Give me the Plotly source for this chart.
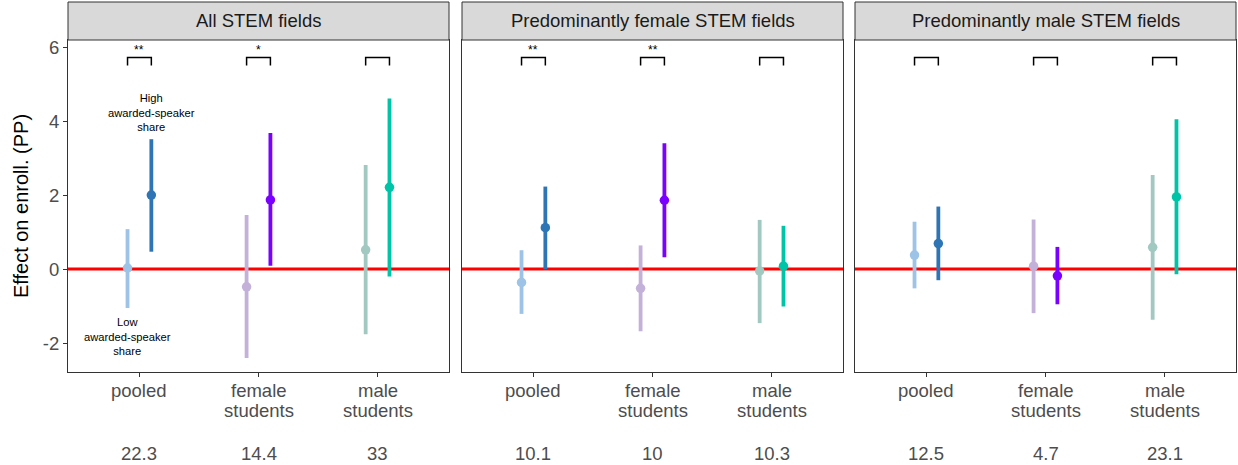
import plotly.graph_objects as go

panels = ["All STEM fields", "Predominantly female STEM fields", "Predominantly male STEM fields"]
categories = ["pooled", "female<br>students", "male<br>students"]
bottom_numbers = [["22.3", "14.4", "33"], ["10.1", "10", "10.3"], ["12.5", "4.7", "23.1"]]

# estimates [panel][category]
low_est = [[0.03, -0.48, 0.52], [-0.36, -0.52, -0.05], [0.38, 0.08, 0.59]]
low_lo = [[-1.05, -2.40, -1.76], [-1.21, -1.68, -1.46], [-0.52, -1.19, -1.37]]
low_hi = [[1.08, 1.46, 2.81], [0.51, 0.64, 1.33], [1.28, 1.34, 2.54]]
high_est = [[2.00, 1.87, 2.21], [1.12, 1.86, 0.08], [0.69, -0.18, 1.95]]
high_lo = [[0.47, 0.09, -0.20], [0.00, 0.32, -1.01], [-0.30, -0.95, -0.14]]
high_hi = [[3.51, 3.68, 4.61], [2.23, 3.40, 1.17], [1.69, 0.60, 4.05]]
stars = [["**", "*", ""], ["**", "**", ""], ["", "", ""]]

low_colors = ["#9DC3E6", "#C3B1D9", "#A2C8C2"]
high_colors = ["#2E75B6", "#7A00FF", "#00C4A7"]

FONT = "Liberation Sans, Arial, sans-serif"
W, H = 1238, 465
ML, MR, MT, MB = 68, 2, 40, 93
pw = W - ML - MR
domains = [[0, 381 / pw], [394 / pw, 775 / pw], [787 / pw, 1.0]]
ph = H - MT - MB
strip_h = 38 / ph
dodge = 0.1
yrange = [-2.78, 6.19]

fig = go.Figure()
shapes = []
annotations = []

for p in range(3):
    xa = "x" if p == 0 else f"x{p+1}"
    ya = "y" if p == 0 else f"y{p+1}"
    shapes.append(dict(type="line", xref=f"{xa} domain", yref=ya, x0=0, x1=1, y0=0, y1=0,
                       line=dict(color="#FF0000", width=3), layer="below"))
    for c in range(3):
        xl = c + 1 - dodge
        xh = c + 1 + dodge
        fig.add_trace(go.Scatter(
            x=[xl], y=[low_est[p][c]], mode="markers", xaxis=xa, yaxis=ya,
            marker=dict(color=low_colors[c], size=9.5),
            error_y=dict(type="data", symmetric=False,
                         array=[low_hi[p][c] - low_est[p][c]],
                         arrayminus=[low_est[p][c] - low_lo[p][c]],
                         thickness=3.8, width=0, color=low_colors[c]),
            showlegend=False, hoverinfo="skip"))
        fig.add_trace(go.Scatter(
            x=[xh], y=[high_est[p][c]], mode="markers", xaxis=xa, yaxis=ya,
            marker=dict(color=high_colors[c], size=9.5),
            error_y=dict(type="data", symmetric=False,
                         array=[high_hi[p][c] - high_est[p][c]],
                         arrayminus=[high_est[p][c] - high_lo[p][c]],
                         thickness=3.8, width=0, color=high_colors[c]),
            showlegend=False, hoverinfo="skip"))
        fig.add_trace(go.Scatter(
            x=[xl, xl, xh, xh], y=[5.50, 5.72, 5.72, 5.50], mode="lines",
            xaxis=xa, yaxis=ya, line=dict(color="black", width=1.5),
            showlegend=False, hoverinfo="skip"))
        if stars[p][c]:
            annotations.append(dict(x=c + 1, y=5.68, xref=xa, yref=ya, text=stars[p][c],
                                    showarrow=False, yanchor="bottom",
                                    font=dict(size=12, color="black", family=FONT)))
        for li, line in enumerate(categories[c].split("<br>")):
            annotations.append(dict(x=c + 1, y=-(18 + 21 * li) / ph, xref=xa, yref="paper",
                                    text=line, showarrow=False, yanchor="middle",
                                    font=dict(size=18.5, color="#4D4D4D", family=FONT)))
        annotations.append(dict(x=c + 1, y=-(453 - 372) / ph, xref=xa, yref="paper",
                                text=bottom_numbers[p][c], showarrow=False,
                                yanchor="middle",
                                font=dict(size=18.5, color="#4D4D4D", family=FONT)))
    shapes.append(dict(type="rect", xref=f"{xa} domain", yref="paper", x0=0, x1=1,
                       y0=1, y1=1 + strip_h, fillcolor="#D9D9D9",
                       line=dict(color="#333333", width=1)))
    annotations.append(dict(x=0.5, y=1 + strip_h / 2, xref=f"{xa} domain", yref="paper",
                            text=panels[p], showarrow=False, yanchor="middle",
                            font=dict(size=18.5, color="#1A1A1A", family=FONT)))

    axis_common = dict(showline=True, mirror=True, linecolor="#333333", linewidth=1,
                       showgrid=False, zeroline=False, ticks="outside", ticklen=4,
                       tickcolor="#333333", tickwidth=1)
    fig.layout[f"xaxis{'' if p == 0 else p+1}"] = dict(
        domain=domains[p], range=[0.4, 3.6], tickvals=[1, 2, 3], ticktext=["", "", ""],
        tickfont=dict(size=18.5, color="#4D4D4D", family=FONT), anchor=ya, **axis_common)
    yax = dict(domain=[0, 1], range=yrange, anchor=xa, **axis_common)
    if p == 0:
        yax.update(tickvals=[-2, 0, 2, 4, 6], ticktext=["-2", "0", "2", "4", "6"],
                   tickfont=dict(size=18.5, color="#4D4D4D", family=FONT),
                   title=dict(text="Effect on enroll. (PP)", standoff=8,
                              font=dict(size=20, color="black", family=FONT)))
    else:
        yax.update(tickvals=[-2, 0, 2, 4, 6], showticklabels=False, ticks="")
    fig.layout[f"yaxis{'' if p == 0 else p+1}"] = yax

annotations.append(dict(x=1 + dodge, y=4.24, xref="x", yref="y",
                        text="High<br>awarded-speaker<br>share", showarrow=False,
                        font=dict(size=11.2, color="black", family=FONT)))
annotations.append(dict(x=1 - dodge, y=-1.81, xref="x", yref="y",
                        text="Low<br>awarded-speaker<br>share", showarrow=False,
                        font=dict(size=11.2, color="black", family=FONT)))

fig.update_layout(width=W, height=H, margin=dict(l=ML, r=MR, t=MT, b=MB),
                  paper_bgcolor="white", plot_bgcolor="white",
                  shapes=shapes, annotations=annotations,
                  font=dict(family=FONT), hovermode=False)
fig.write_html("out.html", config={"displayModeBar": False, "staticPlot": True},
               post_script="document.body.style.margin='0';document.body.style.overflow='hidden';")
